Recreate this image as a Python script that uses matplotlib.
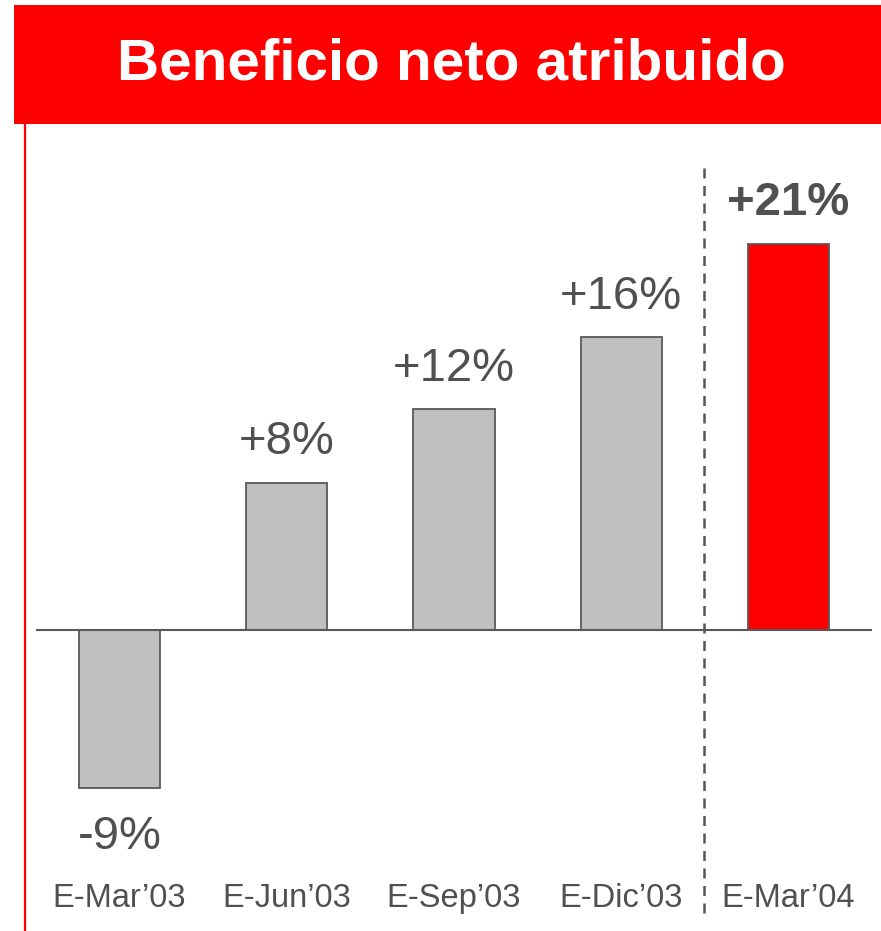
import matplotlib.pyplot as plt
from matplotlib.patches import Rectangle
from matplotlib.lines import Line2D

plt.rcParams['font.family'] = ['Liberation Sans', 'DejaVu Sans']

categories = ["E-Mar\u201903", "E-Jun\u201903", "E-Sep\u201903", "E-Dic\u201903", "E-Mar\u201904"]
values = [-8.6, 8.0, 12.0, 15.9, 21.0]
labels = ["-9%", "+8%", "+12%", "+16%", "+21%"]
title = "Beneficio neto atribuido"

W, H = 881, 931
fig = plt.figure(figsize=(W / 100, H / 100), dpi=100)

# red title banner
fig.patches.append(Rectangle((14 / W, 1 - 124 / H), 1 - 14 / W, 119 / H,
                             transform=fig.transFigure, facecolor='#FF0000',
                             edgecolor='none', zorder=0))
fig.text(451 / W, 1 - 64 / H, title, color='white', fontsize=42,
         fontweight='bold', ha='center', va='center')
# thin red line down the left side
fig.lines.append(Line2D([25 / W, 25 / W], [0, 1 - 124 / H], transform=fig.transFigure,
                        color='#FF0000', linewidth=1.6))

ax = fig.add_axes([36 / W, 0, (872 - 36) / W, (931 - 130) / H])
ax.set_xlim(-0.5, 4.5)
ax.set_ylim(-16.36, 27.17)
ax.axis('off')

colors = ['#C0C0C0'] * 4 + ['#FF0000']
ax.bar(range(len(values)), values, width=0.486, color=colors,
       edgecolor='#595959', linewidth=1.3, zorder=2)
ax.axhline(0, color='#595959', linewidth=1.5, zorder=3)

text_color = '#505050'
for i, (v, lab) in enumerate(zip(values, labels)):
    off = 29 if v >= 0 else -35
    ax.annotate(lab, (i, v), xytext=(0, off), textcoords='offset points',
                ha='center', va='center', fontsize=34, color=text_color,
                fontweight='bold' if i == len(values) - 1 else 'normal')
    ax.text(i, -14.6, categories[i], ha='center', va='center',
            fontsize=23.5, color=text_color)

# dashed separator before the latest period
ax.plot([3.494, 3.494], [-15.4, 25.5], color='#555555', linewidth=1.8,
        linestyle=(0, (4, 3)), zorder=1)

fig.savefig('out.png', dpi=100)
